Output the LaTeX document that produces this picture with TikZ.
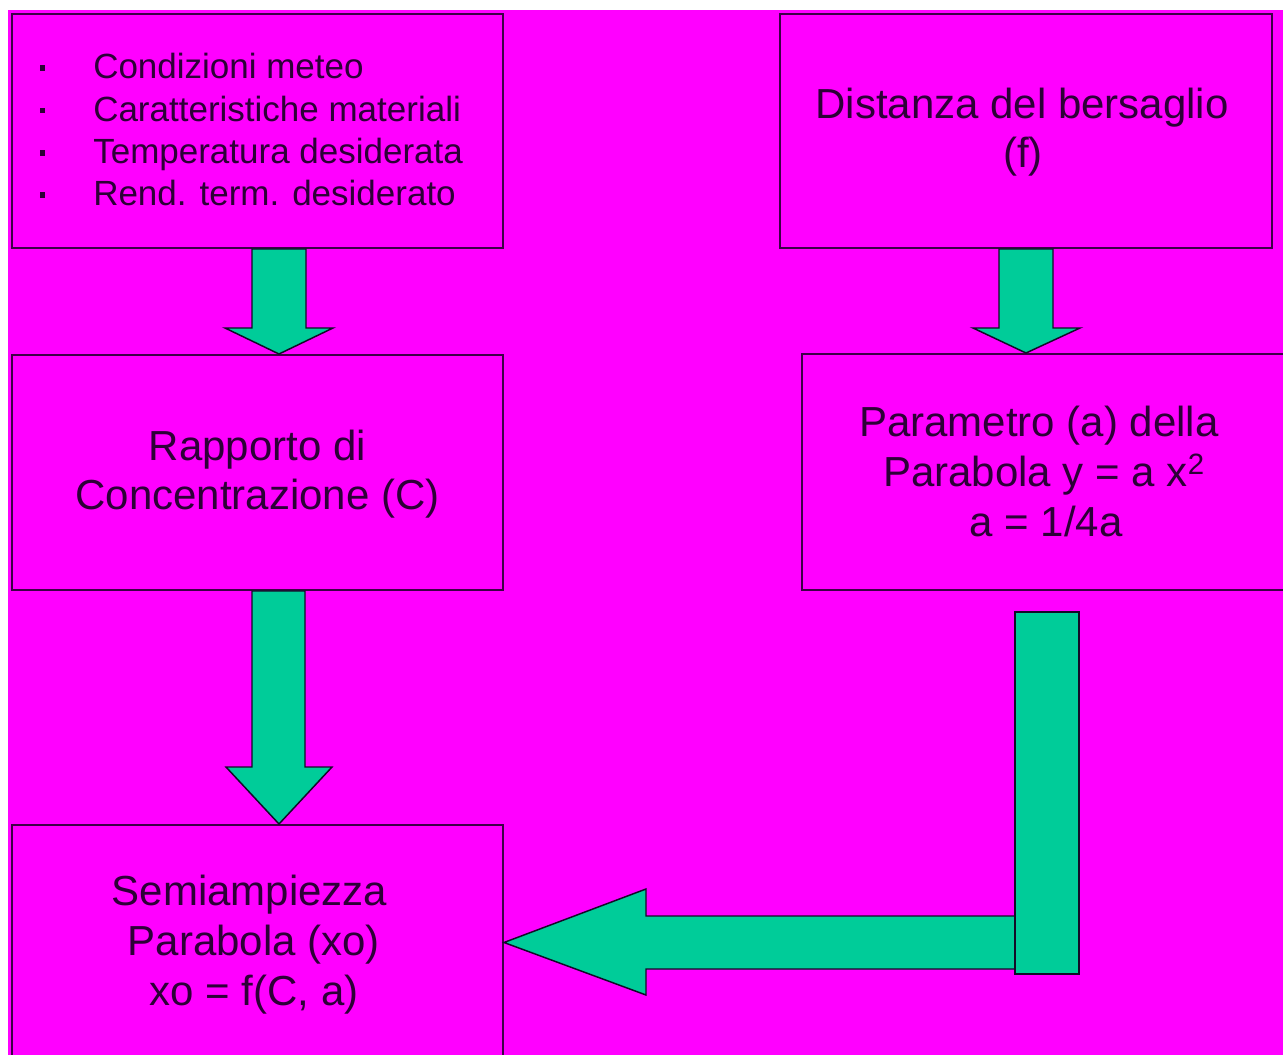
\documentclass[tikz,border=0pt]{standalone}
\usepackage{fontspec}
\setmainfont{Liberation Sans}
\usetikzlibrary{calc}
\definecolor{mag}{RGB}{255,0,255}
\definecolor{grn}{RGB}{0,204,153}
\definecolor{ink}{RGB}{45,0,55}
\definecolor{edge}{RGB}{60,0,70}
\definecolor{arrline}{RGB}{20,10,40}
\begin{document}
\begin{tikzpicture}[x=0.75pt,y=-0.75pt,
  box/.style={draw=edge,line width=1.5pt,fill=mag,rectangle,inner sep=0pt},
  bigtxt/.style={font=\fontsize{31.5pt}{36pt}\selectfont,text=ink,inner sep=0pt,anchor=base},
  smalltxt/.style={font=\fontsize{26.25pt}{30pt}\selectfont,text=ink,inner sep=0pt,anchor=base west},
  blk/.style={draw=arrline,line width=1.1pt,fill=grn,line join=miter},
  bul/.style={fill=ink,inner sep=0pt,minimum size=5.5*0.75pt,rectangle}]
\useasboundingbox (0,0) rectangle (1283,1055);
\clip (0,0) rectangle (1283,1055);
\fill[white] (0,0) rectangle (1283,1055);
\fill[mag] (8,10) rectangle (1283,1055);

% boxes
\node[box,minimum width=491*0.75pt,minimum height=234*0.75pt] (b1) at (257.5,131) {};
\node[box,minimum width=492*0.75pt,minimum height=234*0.75pt] (b2) at (1026,131) {};
\node[box,minimum width=491*0.75pt,minimum height=235*0.75pt] (b3) at (257.5,472.5) {};
\node[box,minimum width=488*0.75pt,minimum height=236*0.75pt] (b4) at (1046,472) {};
\node[box,minimum width=491*0.75pt,minimum height=235*0.75pt] (b5) at (257.5,942.5) {};

% box 1 list
\node[bul] (p1) at (42.5,68) {};
\node[bul] (p2) at (42.5,110.5) {};
\node[bul] (p3) at (42.5,153) {};
\node[bul] (p4) at (42.5,195) {};
\node[smalltxt] (t11) at (93,79) {Condizioni meteo};
\node[smalltxt] (t12) at (93,121.5) {Caratteristiche materiali};
\node[smalltxt] (t13) at (93,164) {Temperatura desiderata};
\node[smalltxt] (t14) at (93,206) {Rend. term. desiderato};

% box 2
\node[bigtxt] (t21) at (1022,119) {Distanza del bersaglio};
\node[bigtxt] (t22) at (1023,168) {(f)};

% box 3
\node[bigtxt] (t31) at (257.5,460.5) {Rapporto di};
\node[bigtxt] (t32) at (257.5,509.5) {Concentrazione (C)};

% box 4
\node[bigtxt] (t41) at (1039,437) {Parametro (a) della};
\node[bigtxt] (t42) at (1044,487) {Parabola y = a x\textsuperscript{2}};
\node[bigtxt] (t43) at (1046,537) {a = 1/4a};

% box 5
\node[bigtxt] (t51) at (249.5,905) {Semiampiezza};
\node[bigtxt] (t52) at (254,955) {Parabola (xo)};
\node[bigtxt] (t53) at (254,1005) {xo = f(C, a)};

% arrow x positions
\coordinate (aL) at (252,0);
\coordinate (aR) at (306,0);
\coordinate (aC) at (279,0);
\coordinate (bL) at (999,0);
\coordinate (bR) at (1053,0);
\coordinate (bC) at (1026,0);
\coordinate (cL) at (252,0);
\coordinate (cR) at (305,0);
\coordinate (cC) at (279,0);

% arrow b1 -> b3
\draw[blk] (aL |- b1.south) -- (252,328) -- (225,328) -- (aC |- b3.north)
  -- (333,328) -- (306,328) -- (aR |- b1.south) -- cycle;
% arrow b2 -> b4
\draw[blk] (bL |- b2.south) -- (999,328) -- (973,328) -- (bC |- b4.north)
  -- (1080,328) -- (1053,328) -- (bR |- b2.south) -- cycle;
% arrow b3 -> b5
\draw[blk] (cL |- b3.south) -- (252,767) -- (226,767) -- (cC |- b5.north)
  -- (332,767) -- (305,767) -- (cR |- b3.south) -- cycle;
% L-shaped arrow b4 -> b5
\draw[blk] (1016,916) -- (646,916) -- (646,889) -- (b5.east)
  -- (646,995) -- (646,969) -- (1016,969);
\draw[blk] (1015,612) rectangle (1079,974);
\end{tikzpicture}
\end{document}
